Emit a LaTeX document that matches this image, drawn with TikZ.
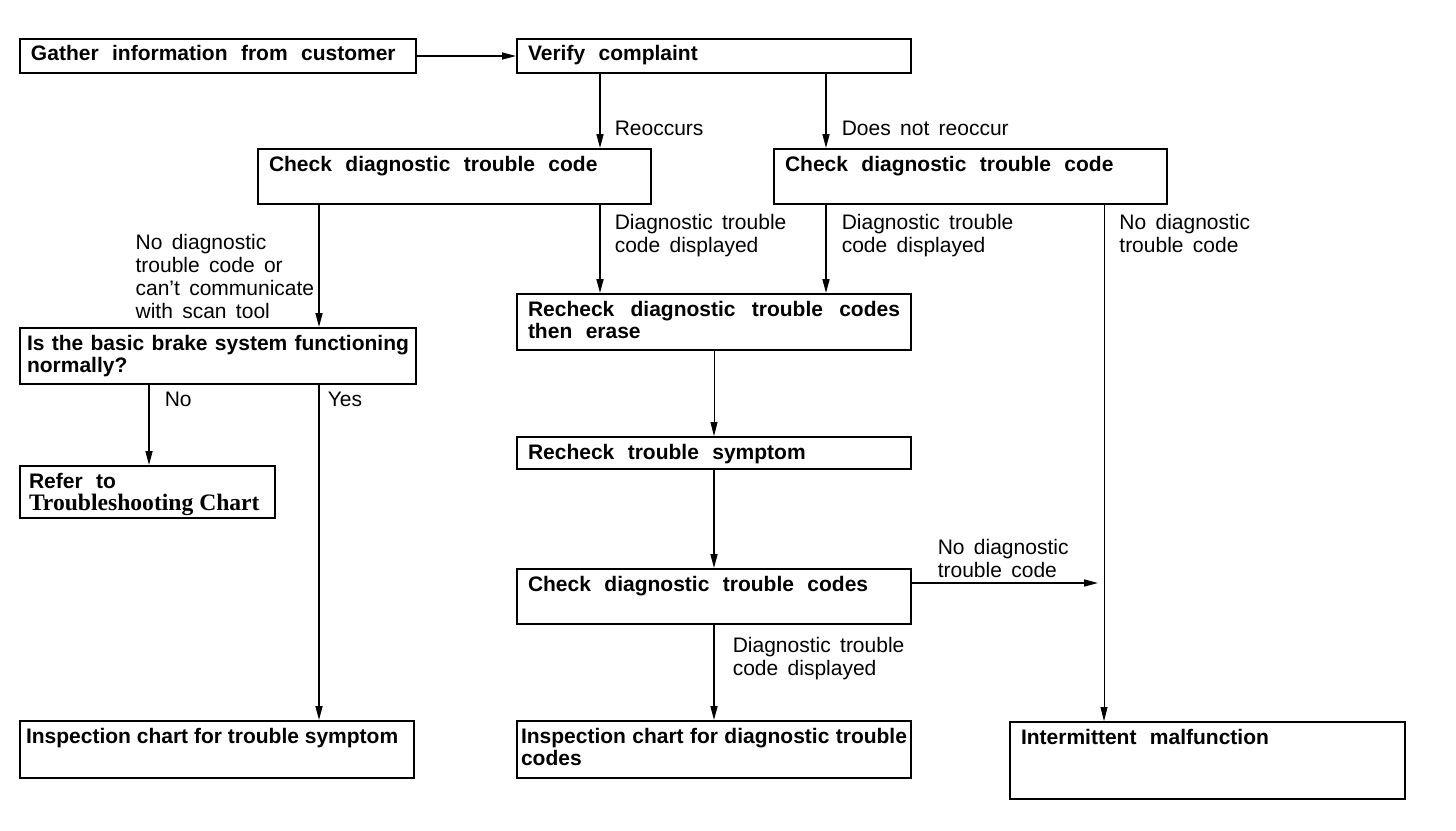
\documentclass[tikz,border=0pt]{standalone}
\usepackage{fontspec}
\usepackage{tikz}
\usetikzlibrary{arrows.meta, calc}

\setmainfont{Liberation Sans}
\newfontfamily\widefont{Liberation Sans Bold}[WordSpace=2.3]
\newfontfamily\labelfont{Liberation Sans}[WordSpace=1.6]
\newfontfamily\chartfont{Liberation Serif}

\tikzset{
	box/.style 2 args = {draw, line width = 1pt, anchor = north west, align = justify, inner xsep = 5.5pt, inner ysep = 0pt, text width = #1, text height = 11pt, text depth = #2, font = \widefont\fontsize{10.5}{11}\selectfont},
	plain/.style = {font = \bfseries\fontsize{10.5}{11}\selectfont},
	lbl/.style = {inner sep = 0pt, align = left, font = \labelfont\fontsize{10.5}{11.5}\selectfont},
	arr/.style = {-{Triangle[length = 7pt, width = 3.5pt]}, line width = 0.8pt}
}

\begin{document}
\begin{tikzpicture}[x = 0.5pt, y = -0.5pt]
		\def\ya{583};
		
		\useasboundingbox [fill = white] (0,0) rectangle (1456,830);
		
		\coordinate (reocc) at (600,0);
		\coordinate (noreocc) at (826,0);
		\coordinate (leftline) at (319,0);
		\coordinate (rightline) at (1104,0);
		\coordinate (noline) at (149,0);
		\coordinate (join) at (1098,\ya);
		
		\begin{scope}
		\node [box = {187pt}{6pt}] (gather) at (19,38) {Gather information from customer};
		\node [box = {186pt}{6pt}] (verify) at (516,38) {Verify complaint};
		\node [box = {185.5pt}{16.5pt}] (checkl) at (257,148) {Check diagnostic trouble code};
		\node [box = {185.5pt}{16.5pt}] (checkr) at (773,148) {Check diagnostic trouble code};
		\node [box = {186pt}{17pt}] (recheck) at (516,293) {Recheck diagnostic trouble codes then erase};
		\node [box = {191pt}{17pt}, plain, inner xsep = 3.5pt] (basic) at (19,327) {Is the basic brake system functioning normally?};
		\node [box = {118.5pt}{15pt}, inner xsep = 4.5pt] (refer) at (19,465) {Refer to\\{\chartfont\bfseries\fontsize{11.8}{11}\selectfont Troubleshooting Chart}};
		\node [box = {186pt}{5pt}] (symptom) at (516,436) {Recheck trouble symptom};
		\node [box = {186pt}{16.5pt}] (checkcodes) at (516,568) {Check diagnostic trouble codes};
		\node [box = {191pt}{17.5pt}, plain, inner xsep = 3pt] (inspsym) at (19,720) {Inspection chart for trouble symptom};
		\node [box = {193pt}{17.5pt}, plain, inner xsep = 2pt] (inspcodes) at (516,720) {Inspection chart for diagnostic trouble codes};
		\node [box = {186.5pt}{27.5pt}] (interm) at (1009,721) {Intermittent malfunction};
		\end{scope}
		
		\begin{scope}[arr]
		\draw [line width = 0.7pt] (gather) -- (verify);
		\draw (verify.south -| reocc) -- (checkl.north -| reocc) node [lbl, pos = 0.83, anchor = base west, xshift = 7pt] {Reoccurs};
		\draw (verify.south -| noreocc) -- (checkr.north -| noreocc) node [lbl, pos = 0.83, anchor = base west, xshift = 7.5pt] {Does not reoccur};
		\draw (checkl.south -| leftline) -- (basic.north -| leftline) node [lbl, pos = 0.93, anchor = base east, xshift = -2pt] {No diagnostic\\trouble code or\\can’t communicate\\with scan tool};
		\draw (checkl.south -| reocc) -- (recheck.north -| reocc) node [lbl, pos = 0.54, anchor = base west, xshift = 7pt] {Diagnostic trouble\\code displayed};
		\draw (checkr.south -| noreocc) -- (recheck.north -| noreocc) node [lbl, pos = 0.54, anchor = base west, xshift = 7.5pt] {Diagnostic trouble\\code displayed};
		\draw [thin] (checkr.south -| rightline) -- (interm.north -| rightline) node [lbl, pos = 0.093, anchor = base west, xshift = 7.5pt] {No diagnostic\\trouble code};
		\draw (basic.south -| noline) -- (refer.north -| noline) node [lbl, pos = 0.27, anchor = base west, xshift = 7.5pt] {No};
		\draw (basic.south -| leftline) -- (inspsym.north -| leftline) node [lbl, pos = 0.065, anchor = base west, xshift = 4pt] {Yes};
		\draw [thin] (recheck.south) -- (symptom.north);
		\draw (symptom.south) -- (checkcodes.north);
		\draw (checkcodes.south) -- (inspcodes.north) node [lbl, pos = 0.53, anchor = base west, xshift = 9pt] {Diagnostic trouble\\code displayed};
		\draw (checkcodes.east |- join) -- (join) node [lbl, at start, anchor = base west, xshift = 12.5pt, yshift = 3pt] {No diagnostic\\trouble code};
		\end{scope}
	\end{tikzpicture}
\end{document}
